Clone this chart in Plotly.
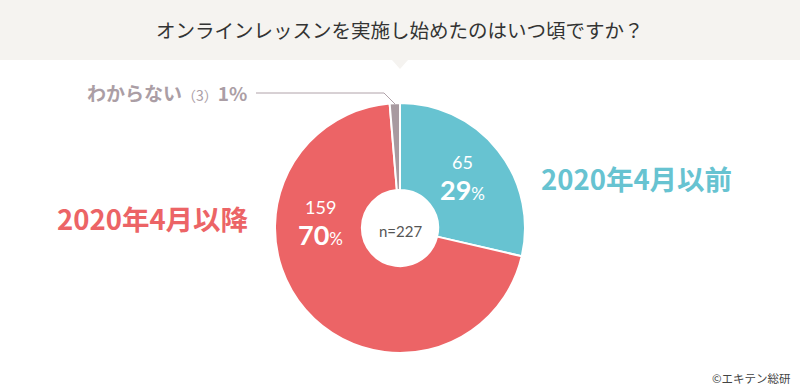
import plotly.graph_objects as go

labels = ["2020年4月以前", "2020年4月以降", "わからない"]
values = [65, 159, 3]
colors = ["#67c3d1", "#ec6466", "#a89aa0"]
title_text = "オンラインレッスンを実施し始めたのはいつ頃ですか？"
n_text = "n=227"
credit = "©エキテン総研"

W, H = 800, 390
total = sum(values)
pcts = [round(v / total * 100) for v in values]

FONT = "Noto Sans CJK JP"
NUMFONT = "Lato, Noto Sans CJK JP"

cx, cy, r = 400, 228, 125

fig = go.Figure()
fig.add_trace(go.Pie(
    labels=labels, values=values, sort=False, direction="clockwise", rotation=0,
    hole=0.305,
    marker=dict(colors=colors, line=dict(color="white", width=2)),
    textinfo="none",
    domain=dict(x=[(cx - r) / W, (cx + r) / W], y=[1 - (cy + r) / H, 1 - (cy - r) / H]),
    showlegend=False, hoverinfo="skip",
))

def px(x):
    return x / W

def py(y):
    return 1 - y / H

shapes = [
    dict(type="rect", xref="paper", yref="paper", x0=0, x1=1, y0=py(60), y1=1,
         fillcolor="#f5f3f0", line=dict(width=0), layer="below"),
    dict(type="path", xref="paper", yref="paper",
         path=f"M {px(392)} {py(60)} L {px(408)} {py(60)} L {px(400)} {py(69)} Z",
         fillcolor="#f5f3f0", line=dict(width=0), layer="below"),
    dict(type="path", xref="paper", yref="paper",
         path=f"M {px(256)} {py(93)} L {px(384)} {py(93)} L {px(395)} {py(104)}",
         line=dict(color="#b0a2a9", width=1)),
]

def ann(text, x, y, size, color, family=FONT, xanchor="center"):
    return dict(text=text, x=px(x), y=py(y), xref="paper", yref="paper", showarrow=False,
                font=dict(size=size, color=color, family=family), xanchor=xanchor, yanchor="middle")

annotations = [
    ann(title_text, 400, 30, 19.5, "#333333"),
    ann(n_text, cx, 231, 15, "#555555", NUMFONT),
    ann(f"<b>{labels[0]}</b>", 539, 178, 27.5, colors[0], xanchor="left"),
    ann(f"<b>{labels[1]}</b>", 251, 218, 27.5, colors[1], xanchor="right"),
    ann(f"<b>{labels[2]}</b><span style='font-size:14px'>（{values[2]}）</span><b>{pcts[2]}%</b>",
        249, 92, 19, "#ab9ea5", xanchor="right"),
    ann(credit, 793, 378, 11.5, "#444444", xanchor="right"),
    # slice value labels
    ann(f"{values[0]}", 462, 162, 18, "white", NUMFONT),
    ann(f"<b>{pcts[0]}</b><span style='font-size:17px'>%</span>", 462, 189, 27, "white", NUMFONT),
    ann(f"{values[1]}", 320, 207, 18, "white", NUMFONT),
    ann(f"<b>{pcts[1]}</b><span style='font-size:17px'>%</span>", 320, 234, 27, "white", NUMFONT),
]

fig.update_layout(
    width=W, height=H, margin=dict(l=0, r=0, t=0, b=0),
    paper_bgcolor="white", plot_bgcolor="white",
    shapes=shapes, annotations=annotations,
)

fig.write_html("out.html", config={"displayModeBar": False},
               post_script="document.body.style.margin='0';document.body.style.padding='0';")
